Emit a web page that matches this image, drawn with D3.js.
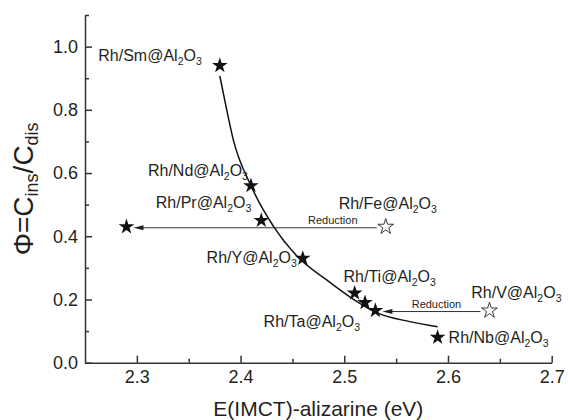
<!DOCTYPE html>
<html>
<head>
<meta charset="utf-8">
<script src="https://cdn.jsdelivr.net/npm/d3@7"></script>
<style>
  body { margin: 0; background: #fff; }
  text { font-family: "Liberation Sans", Arial, sans-serif; fill: #231f20; }
</style>
</head>
<body>
<div id="graph1"></div>
<script>
const samples = ["Sm", "Nd", "Pr", "Fe*", "Fe", "Y", "Ti", "Ta", "V*", "V", "Nb"];
const energy  = [2.38, 2.41, 2.42, 2.29, 2.54, 2.46, 2.51, 2.52, 2.53, 2.64, 2.59];
const phi     = [0.94, 0.56, 0.45, 0.43, 0.43, 0.33, 0.22, 0.19, 0.165, 0.165, 0.08];
const openMarkers = ["Fe", "V"];

// hand drawn trend line
const fitEnergy = [2.38, 2.386, 2.393, 2.41, 2.432, 2.455, 2.483, 2.51, 2.53, 2.563, 2.59];
const fitPhi    = [0.907, 0.81, 0.705, 0.56, 0.43, 0.335, 0.262, 0.198, 0.16, 0.13, 0.114];

// reduction arrows: from -> to
const reduceFrom = ["Fe", "V"];
const reduceTo   = ["Fe*", "V*"];

const xTicks = [2.3, 2.4, 2.5, 2.6, 2.7];
const yTicks = [0.0, 0.2, 0.4, 0.6, 0.8, 1.0];

const width = 568, height = 420;
const margin = {left: 85, right: 16.3, top: 15, bottom: 57.3};

// where each label sits relative to its star (pixels)
const labelPos = {
    "Sm": {anchor: "end",   dx: -18, dy: -5},
    "Nd": {anchor: "end",   dx: -3,  dy: -10},
    "Pr": {anchor: "end",   dx: -10, dy: -12},
    "Fe": {anchor: "middle", dx: 2,  dy: -18},
    "Y":  {anchor: "end",   dx: -6,  dy: 5},
    "Ti": {anchor: "middle", dx: 35, dy: -11.5},
    "Ta": {anchor: "end",   dx: -5,  dy: 24},
    "V":  {anchor: "end",   dx: 72,  dy: -12.7},
    "Nb": {anchor: "start", dx: 11,  dy: 6}
};

let svg = d3.select("#graph1")
    .append("svg")
    .attr("width", width)
    .attr("height", height);

let x = d3.scaleLinear()
    .domain([2.25, 2.7])
    .range([margin.left, width - margin.right]);

let y = d3.scaleLinear()
    .domain([0, 1.1])
    .range([height - margin.bottom, margin.top]);

// minor ticks first, so the main axes sit on top
svg.append("g")
    .attr("transform", `translate(0, ${y(0)})`)
    .call(d3.axisBottom(x).tickValues([2.35, 2.45, 2.55, 2.65]).tickSize(-4).tickFormat(""))
    .call(g => g.select(".domain").remove());

svg.append("g")
    .attr("transform", `translate(${x(2.25)}, 0)`)
    .call(d3.axisLeft(y).tickValues([0.1, 0.3, 0.5, 0.7, 0.9, 1.1]).tickSize(-4).tickFormat(""))
    .call(g => g.select(".domain").remove());

let xAxis = svg.append("g")
    .attr("transform", `translate(0, ${y(0)})`)
    .call(d3.axisBottom(x).tickValues(xTicks).tickSizeInner(-7).tickSizeOuter(0)
        .tickPadding(8).tickFormat(d3.format(".1f")));

let yAxis = svg.append("g")
    .attr("transform", `translate(${x(2.25)}, 0)`)
    .call(d3.axisLeft(y).tickValues(yTicks).tickSizeInner(-7).tickSizeOuter(0)
        .tickPadding(7).tickFormat(d3.format(".1f")));

svg.selectAll(".tick line, .domain")
    .attr("stroke", "#333")
    .attr("stroke-width", 1.5);

[xAxis, yAxis].forEach(a => a.selectAll("text")
    .style("font-size", "18px")
    .attr("fill", "#231f20"));

// x-axis label
svg.append("text")
    .attr("x", (x.range()[0] + x.range()[1]) / 2)
    .attr("y", 416)
    .style("text-anchor", "middle")
    .style("font-size", "21px")
    .text("E(IMCT)-alizarine (eV)");

// y-axis label
let yLab = svg.append("text")
    .attr("transform", `translate(33, ${(y.range()[0] + y.range()[1]) / 2}) rotate(-90)`)
    .style("text-anchor", "middle")
    .style("font-size", "28px");
yLab.append("tspan").text("\u03A6=C");
yLab.append("tspan").attr("dy", 5).style("font-size", "18px").text("ins");
yLab.append("tspan").attr("dy", -5).text("/C");
yLab.append("tspan").attr("dy", 5).style("font-size", "18px").text("dis");

// trend line
let line = d3.line()
    .x((d, i) => x(fitEnergy[i]))
    .y(d => y(d))
    .curve(d3.curveMonotoneX);

svg.append("path")
    .datum(fitPhi)
    .attr("d", line)
    .attr("fill", "none")
    .attr("stroke", "#111")
    .attr("stroke-width", 1.5);

// reduction arrows
let idx = name => samples.indexOf(name);
reduceFrom.forEach(function(from, k) {
    let a = idx(from), b = idx(reduceTo[k]);
    let ly = y(phi[a]) + 1;
    let x0 = x(energy[a]) - 9;
    let x1 = x(energy[b]) + 7;
    svg.append("line")
        .attr("x1", x0).attr("x2", x1 + 8)
        .attr("y1", ly).attr("y2", ly)
        .attr("stroke", "#333")
        .attr("stroke-width", 1);
    svg.append("path")
        .attr("d", `M${x1},${ly}L${x1 + 10},${ly - 2.5}L${x1 + 10},${ly + 2.5}Z`)
        .attr("fill", "#222");
    svg.append("text")
        .attr("x", x0 - 44)
        .attr("y", ly - 4)
        .style("text-anchor", "middle")
        .style("font-size", "11px")
        .text("Reduction");
});

// stars
let star = d3.symbol().type(d3.symbolStar).size(76);
svg.selectAll(".star")
    .data(samples)
    .enter()
    .append("path")
    .attr("class", "star")
    .attr("transform", (d, i) => `translate(${x(energy[i])}, ${y(phi[i])})`)
    .attr("d", star)
    .attr("fill", d => openMarkers.includes(d) ? "#fff" : "#111")
    .attr("stroke", d => openMarkers.includes(d) ? "#222" : "none")
    .attr("stroke-width", 0.9);

// sample labels
samples.forEach(function(name, i) {
    let pos = labelPos[name];
    if (!pos) return;
    let t = svg.append("text")
        .attr("x", x(energy[i]) + pos.dx)
        .attr("y", y(phi[i]) + pos.dy)
        .style("text-anchor", pos.anchor)
        .style("font-size", "16px");
    t.append("tspan").text(`Rh/${name}@Al`);
    t.append("tspan").attr("dy", 4).style("font-size", "10.5px").text("2");
    t.append("tspan").attr("dy", -4).text("O");
    t.append("tspan").attr("dy", 4).style("font-size", "10.5px").text("3");
});
</script>
</body>
</html>
